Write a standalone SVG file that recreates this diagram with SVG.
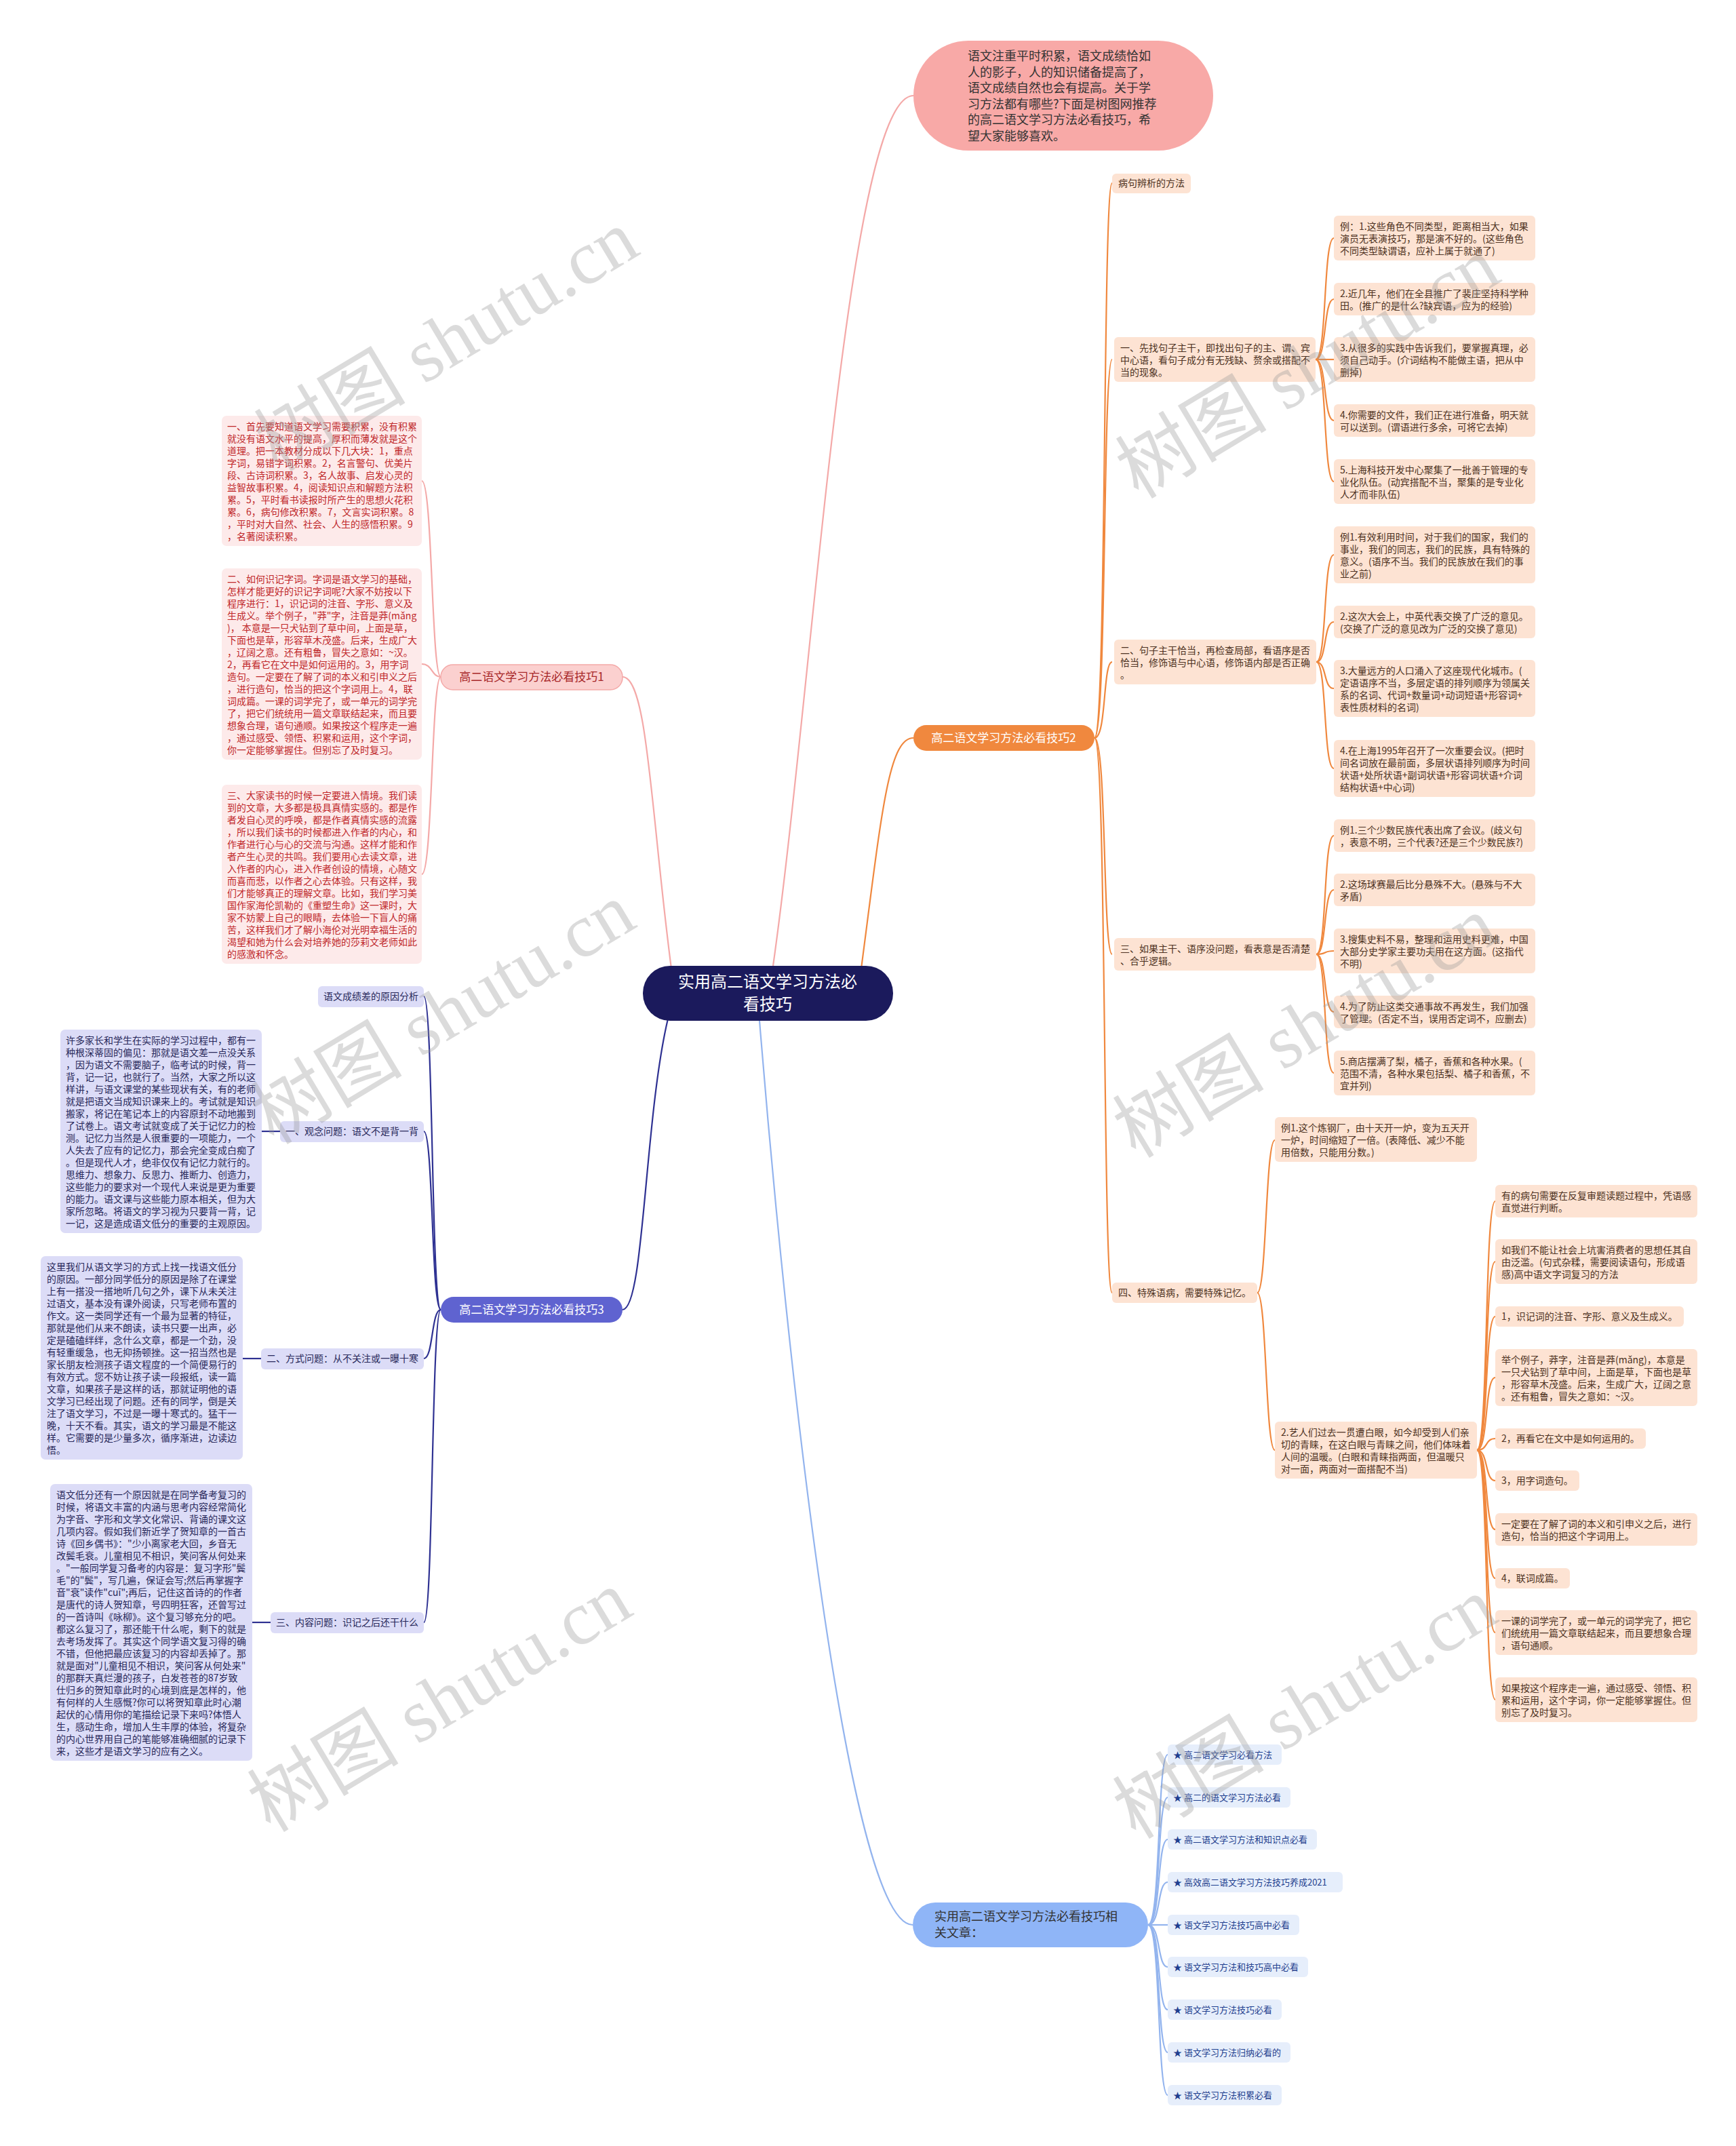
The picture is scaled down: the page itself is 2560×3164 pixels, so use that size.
<svg xmlns="http://www.w3.org/2000/svg" width="2560" height="3164" viewBox="0 0 2560 3164">
<style>
text{font-family:"Noto Sans CJK SC","Liberation Sans",sans-serif;}
.t14{font-size:14px;}
.pinkbox{fill:#fdeaea;}
.pinkt{fill:#c0282a;}
.orbox{fill:#fde3d3;}
.ort{fill:#4d3222;}
.navbox{fill:#dcdcf7;}
.navt{fill:#28285a;}
.bluebox{fill:#e6eefb;}
.bluet{fill:#1f3f8f;font-size:13px;}
.lp{fill:none;stroke:#f4a9a8;stroke-width:2.2;}
.lo{fill:none;stroke:#f0883e;stroke-width:2.2;}
.ln{fill:none;stroke:#2e3192;stroke-width:2.2;}
.lb{fill:none;stroke:#93b4ee;stroke-width:2.2;}
.wm{font-family:"Liberation Serif","Noto Sans CJK SC",serif;font-size:112px;fill:#9a9a9a;opacity:0.35;}
</style>
<rect width="2560" height="3164" fill="#ffffff"/>

<g id="connectors">
  <!-- center to main branches -->
  <path class="lp" d="M1140,1424 C1200,1000 1250,141 1347,141"/>
  <path class="lp" d="M990,1428 C960,1200 955,998 918,998"/>
  <path class="lo" d="M1270,1428 C1300,1200 1310,1088 1347,1088"/>
  <path class="ln" d="M985,1502 C950,1650 950,1931 918,1931"/>
  <path class="lb" d="M1120,1505 C1160,2000 1250,2838 1346,2838"/>
  <!-- branch 1 -->
  <path class="lp" d="M650,998 C636,998 638,709 622,709"/>
  <path class="lp" d="M650,998 C636,998 638,979 622,979"/>
  <path class="lp" d="M650,998 C636,998 638,1289 622,1289"/>
  <!-- branch 2 -->
  <path class="lo" d="M1614,1088 C1632,1088 1626,270 1640,270"/>
  <path class="lo" d="M1614,1088 C1632,1088 1626,530 1640,530"/>
  <path class="lo" d="M1614,1088 C1632,1088 1626,976 1640,976"/>
  <path class="lo" d="M1614,1088 C1632,1088 1626,1407 1640,1407"/>
  <path class="lo" d="M1614,1088 C1632,1088 1626,1906 1640,1906"/>
  <path class="lo" d="M1940,530 C1957,530 1951,351 1967,351"/>
  <path class="lo" d="M1940,530 C1957,530 1951,441 1967,441"/>
  <path class="lo" d="M1940,530 L1967,530"/>
  <path class="lo" d="M1940,530 C1957,530 1951,620 1967,620"/>
  <path class="lo" d="M1940,530 C1957,530 1951,710 1967,710"/>
  <path class="lo" d="M1941,976 C1957,976 1951,818 1967,818"/>
  <path class="lo" d="M1941,976 C1957,976 1951,917 1967,917"/>
  <path class="lo" d="M1941,976 C1957,976 1951,1015 1967,1015"/>
  <path class="lo" d="M1941,976 C1957,976 1951,1133 1967,1133"/>
  <path class="lo" d="M1941,1407 C1957,1407 1951,1232 1967,1232"/>
  <path class="lo" d="M1941,1407 C1957,1407 1951,1312 1967,1312"/>
  <path class="lo" d="M1941,1407 C1957,1407 1951,1402 1967,1402"/>
  <path class="lo" d="M1941,1407 C1957,1407 1951,1492 1967,1492"/>
  <path class="lo" d="M1941,1407 C1957,1407 1951,1582 1967,1582"/>
  <path class="lo" d="M1854,1906 C1868,1906 1866,1681 1880,1681"/>
  <path class="lo" d="M1854,1906 C1868,1906 1866,2138 1880,2138"/>
  <path class="lo" d="M2178,2138 C2195,2138 2189,1771 2205,1771"/>
  <path class="lo" d="M2178,2138 C2195,2138 2189,1860 2205,1860"/>
  <path class="lo" d="M2178,2138 C2195,2138 2189,1941 2205,1941"/>
  <path class="lo" d="M2178,2138 C2195,2138 2189,2031 2205,2031"/>
  <path class="lo" d="M2178,2138 C2195,2138 2189,2121 2205,2121"/>
  <path class="lo" d="M2178,2138 C2195,2138 2189,2183 2205,2183"/>
  <path class="lo" d="M2178,2138 C2195,2138 2189,2255 2205,2255"/>
  <path class="lo" d="M2178,2138 C2195,2138 2189,2327 2205,2327"/>
  <path class="lo" d="M2178,2138 C2195,2138 2189,2407 2205,2407"/>
  <path class="lo" d="M2178,2138 C2195,2138 2189,2506 2205,2506"/>
  <!-- branch 3 -->
  <path class="ln" d="M650,1931 C636,1931 639,1469 625,1469"/>
  <path class="ln" d="M650,1931 C636,1931 639,1668 625,1668"/>
  <path class="ln" d="M650,1931 C636,1931 639,2003 625,2003"/>
  <path class="ln" d="M650,1931 C636,1931 639,2392 625,2392"/>
  <path class="ln" d="M413,1668 L386,1668"/>
  <path class="ln" d="M385,2003 L358,2003"/>
  <path class="ln" d="M399,2392 L372,2392"/>
  <!-- related -->
  <path class="lb" d="M1693,2838 C1712,2838 1706,2587 1722,2587"/>
  <path class="lb" d="M1693,2838 C1712,2838 1706,2650 1722,2650"/>
  <path class="lb" d="M1693,2838 C1712,2838 1706,2712 1722,2712"/>
  <path class="lb" d="M1693,2838 C1712,2838 1706,2775 1722,2775"/>
  <path class="lb" d="M1693,2838 L1722,2838"/>
  <path class="lb" d="M1693,2838 C1712,2838 1706,2900 1722,2900"/>
  <path class="lb" d="M1693,2838 C1712,2838 1706,2963 1722,2963"/>
  <path class="lb" d="M1693,2838 C1712,2838 1706,3026 1722,3026"/>
  <path class="lb" d="M1693,2838 C1712,2838 1706,3089 1722,3089"/>
</g>

<g id="center">
  <rect x="948" y="1424" width="369" height="81" rx="40" fill="#1b1a5c"/>
  <text x="1132" y="1456" font-size="24" fill="#ffffff" text-anchor="middle"><tspan x="1132">实用高二语文学习方法必</tspan><tspan x="1132" dy="33">看技巧</tspan></text>
</g>

<g id="intro">
  <rect x="1347" y="60" width="442" height="162" rx="81" fill="#f8a9a7"/>
  <text x="1427" y="89" font-size="18" fill="#333333"><tspan x="1427">语文注重平时积累，语文成绩恰如</tspan><tspan x="1427" dy="23.5">人的影子，人的知识储备提高了，</tspan><tspan x="1427" dy="23.5">语文成绩自然也会有提高。关于学</tspan><tspan x="1427" dy="23.5">习方法都有哪些?下面是树图网推荐</tspan><tspan x="1427" dy="23.5">的高二语文学习方法必看技巧，希</tspan><tspan x="1427" dy="23.5">望大家能够喜欢。</tspan></text>
</g>

<g id="branch1">
  <rect x="650" y="980" width="268" height="37" rx="18" fill="#fbd0cf" stroke="#f4a9a8" stroke-width="1.5"/>
  <text x="784" y="1004" font-size="17" fill="#a8282a" text-anchor="middle">高二语文学习方法必看技巧1</text>
</g>
<g id="b1-n1">
  <rect class="pinkbox" x="327" y="613" width="295" height="192" rx="7"/>
  <text class="t14 pinkt" x="335" y="634"><tspan x="335">一、首先要知道语文学习需要积累，没有积累</tspan><tspan x="335" dy="18">就没有语文水平的提高，厚积而薄发就是这个</tspan><tspan x="335" dy="18">道理。把一本教材分成以下几大块：1，重点</tspan><tspan x="335" dy="18">字词，易错字词积累。2，名言警句、优美片</tspan><tspan x="335" dy="18">段、古诗词积累。3，名人故事、启发心灵的</tspan><tspan x="335" dy="18">益智故事积累。4，阅读知识点和解题方法积</tspan><tspan x="335" dy="18">累。5，平时看书读报时所产生的思想火花积</tspan><tspan x="335" dy="18">累。6，病句修改积累。7，文言实词积累。8</tspan><tspan x="335" dy="18">，平时对大自然、社会、人生的感悟积累。9</tspan><tspan x="335" dy="18">，名著阅读积累。</tspan></text>
</g>
<g id="b1-n2">
  <rect class="pinkbox" x="327" y="838" width="295" height="282" rx="7"/>
  <text class="t14 pinkt" x="335" y="859"><tspan x="335">二、如何识记字词。字词是语文学习的基础，</tspan><tspan x="335" dy="18">怎样才能更好的识记字词呢?大家不妨按以下</tspan><tspan x="335" dy="18">程序进行：1，识记词的注音、字形、意义及</tspan><tspan x="335" dy="18">生成义。举个例子，"莽"字，注音是莽(mǎng</tspan><tspan x="335" dy="18">)， 本意是一只犬钻到了草中间，上面是草，</tspan><tspan x="335" dy="18">下面也是草，形容草木茂盛。后来，生成广大</tspan><tspan x="335" dy="18">，辽阔之意。还有粗鲁，冒失之意如：~汉。</tspan><tspan x="335" dy="18">2，再看它在文中是如何运用的。3，用字词</tspan><tspan x="335" dy="18">造句。一定要在了解了词的本义和引申义之后</tspan><tspan x="335" dy="18">，进行造句，恰当的把这个字词用上。4，联</tspan><tspan x="335" dy="18">词成篇。一课的词学完了，或一单元的词学完</tspan><tspan x="335" dy="18">了，把它们统统用一篇文章联结起来，而且要</tspan><tspan x="335" dy="18">想象合理，语句通顺。如果按这个程序走一遍</tspan><tspan x="335" dy="18">，通过感受、领悟、积累和运用，这个字词，</tspan><tspan x="335" dy="18">你一定能够掌握住。但别忘了及时复习。</tspan></text>
</g>
<g id="b1-n3">
  <rect class="pinkbox" x="327" y="1157" width="295" height="264" rx="7"/>
  <text class="t14 pinkt" x="335" y="1178"><tspan x="335">三、大家读书的时候一定要进入情境。我们读</tspan><tspan x="335" dy="18">到的文章，大多都是极具真情实感的。都是作</tspan><tspan x="335" dy="18">者发自心灵的呼唤，都是作者真情实感的流露</tspan><tspan x="335" dy="18">，所以我们读书的时候都进入作者的内心，和</tspan><tspan x="335" dy="18">作者进行心与心的交流与沟通。这样才能和作</tspan><tspan x="335" dy="18">者产生心灵的共鸣。我们要用心去读文章，进</tspan><tspan x="335" dy="18">入作者的内心，进入作者创设的情境，心随文</tspan><tspan x="335" dy="18">而喜而悲，以作者之心去体验。只有这样，我</tspan><tspan x="335" dy="18">们才能够真正的理解文章。比如，我们学习美</tspan><tspan x="335" dy="18">国作家海伦凯勒的《重塑生命》这一课时，大</tspan><tspan x="335" dy="18">家不妨蒙上自己的眼睛，去体验一下盲人的痛</tspan><tspan x="335" dy="18">苦，这样我们才了解小海伦对光明幸福生活的</tspan><tspan x="335" dy="18">渴望和她为什么会对培养她的莎莉文老师如此</tspan><tspan x="335" dy="18">的感激和怀念。</tspan></text>
</g>

<g id="branch2">
  <rect x="1347" y="1069" width="267" height="38" rx="19" fill="#f0883e"/>
  <text x="1480" y="1094" font-size="17" fill="#ffffff" text-anchor="middle">高二语文学习方法必看技巧2</text>
</g>
<g id="b2-a">
  <rect class="orbox" x="1640" y="256" width="116" height="29" rx="6"/>
  <text class="t14 ort" x="1649" y="275">病句辨析的方法</text>
</g>
<g id="b2-b">
  <rect class="orbox" x="1643" y="497" width="297" height="66" rx="6"/>
  <text class="t14 ort" x="1652" y="518"><tspan x="1652">一、先找句子主干，即找出句子的主、谓、宾</tspan><tspan x="1652" dy="18">中心语，看句子成分有无残缺、赘余或搭配不</tspan><tspan x="1652" dy="18">当的现象。</tspan></text>
</g>
<g id="b2-b1">
  <rect class="orbox" x="1967" y="318" width="297" height="66" rx="6"/>
  <text class="t14 ort" x="1976" y="339"><tspan x="1976">例：1.这些角色不同类型，距离相当大，如果</tspan><tspan x="1976" dy="18">演员无表演技巧，那是演不好的。(这些角色</tspan><tspan x="1976" dy="18">不同类型缺谓语，应补上属于就通了)</tspan></text>
</g>
<g id="b2-b2">
  <rect class="orbox" x="1967" y="417" width="297" height="48" rx="6"/>
  <text class="t14 ort" x="1976" y="438"><tspan x="1976">2.近几年，他们在全县推广了裴庄坚持科学种</tspan><tspan x="1976" dy="18">田。(推广的是什么?缺宾语，应为的经验)</tspan></text>
</g>
<g id="b2-b3">
  <rect class="orbox" x="1967" y="497" width="297" height="66" rx="6"/>
  <text class="t14 ort" x="1976" y="518"><tspan x="1976">3.从很多的实践中告诉我们，要掌握真理，必</tspan><tspan x="1976" dy="18">须自己动手。(介词结构不能做主语，把从中</tspan><tspan x="1976" dy="18">删掉)</tspan></text>
</g>
<g id="b2-b4">
  <rect class="orbox" x="1967" y="596" width="297" height="48" rx="6"/>
  <text class="t14 ort" x="1976" y="617"><tspan x="1976">4.你需要的文件，我们正在进行准备，明天就</tspan><tspan x="1976" dy="18">可以送到。(谓语进行多余，可将它去掉)</tspan></text>
</g>
<g id="b2-b5">
  <rect class="orbox" x="1967" y="677" width="297" height="66" rx="6"/>
  <text class="t14 ort" x="1976" y="698"><tspan x="1976">5.上海科技开发中心聚集了一批善于管理的专</tspan><tspan x="1976" dy="18">业化队伍。(动宾搭配不当，聚集的是专业化</tspan><tspan x="1976" dy="18">人才而非队伍)</tspan></text>
</g>
<g id="b2-c">
  <rect class="orbox" x="1643" y="943" width="298" height="66" rx="6"/>
  <text class="t14 ort" x="1652" y="964"><tspan x="1652">二、句子主干恰当，再检查局部，看语序是否</tspan><tspan x="1652" dy="18">恰当，修饰语与中心语，修饰语内部是否正确</tspan><tspan x="1652" dy="18">。</tspan></text>
</g>
<g id="b2-c1">
  <rect class="orbox" x="1967" y="776" width="297" height="84" rx="6"/>
  <text class="t14 ort" x="1976" y="797"><tspan x="1976">例1.有效利用时间，对于我们的国家，我们的</tspan><tspan x="1976" dy="18">事业，我们的同志，我们的民族，具有特殊的</tspan><tspan x="1976" dy="18">意义。(语序不当。我们的民族放在我们的事</tspan><tspan x="1976" dy="18">业之前)</tspan></text>
</g>
<g id="b2-c2">
  <rect class="orbox" x="1967" y="893" width="297" height="48" rx="6"/>
  <text class="t14 ort" x="1976" y="914"><tspan x="1976">2.这次大会上，中英代表交换了广泛的意见。</tspan><tspan x="1976" dy="18">(交换了广泛的意见改为广泛的交换了意见)</tspan></text>
</g>
<g id="b2-c3">
  <rect class="orbox" x="1967" y="973" width="297" height="84" rx="6"/>
  <text class="t14 ort" x="1976" y="994"><tspan x="1976">3.大量远方的人口涌入了这座现代化城市。(</tspan><tspan x="1976" dy="18">定语语序不当，多层定语的排列顺序为领属关</tspan><tspan x="1976" dy="18">系的名词、代词+数量词+动词短语+形容词+</tspan><tspan x="1976" dy="18">表性质材料的名词)</tspan></text>
</g>
<g id="b2-c4">
  <rect class="orbox" x="1967" y="1091" width="297" height="84" rx="6"/>
  <text class="t14 ort" x="1976" y="1112"><tspan x="1976">4.在上海1995年召开了一次重要会议。(把时</tspan><tspan x="1976" dy="18">间名词放在最前面，多层状语排列顺序为时间</tspan><tspan x="1976" dy="18">状语+处所状语+副词状语+形容词状语+介词</tspan><tspan x="1976" dy="18">结构状语+中心词)</tspan></text>
</g>
<g id="b2-d">
  <rect class="orbox" x="1643" y="1383" width="298" height="48" rx="6"/>
  <text class="t14 ort" x="1652" y="1404"><tspan x="1652">三、如果主干、语序没问题，看表意是否清楚</tspan><tspan x="1652" dy="18">、合乎逻辑。</tspan></text>
</g>
<g id="b2-d1">
  <rect class="orbox" x="1967" y="1208" width="297" height="48" rx="6"/>
  <text class="t14 ort" x="1976" y="1229"><tspan x="1976">例1.三个少数民族代表出席了会议。(歧义句</tspan><tspan x="1976" dy="18">，表意不明，三个代表?还是三个少数民族?)</tspan></text>
</g>
<g id="b2-d2">
  <rect class="orbox" x="1967" y="1288" width="297" height="48" rx="6"/>
  <text class="t14 ort" x="1976" y="1309"><tspan x="1976">2.这场球赛最后比分悬殊不大。(悬殊与不大</tspan><tspan x="1976" dy="18">矛盾)</tspan></text>
</g>
<g id="b2-d3">
  <rect class="orbox" x="1967" y="1369" width="297" height="66" rx="6"/>
  <text class="t14 ort" x="1976" y="1390"><tspan x="1976">3.搜集史料不易，整理和运用史料更难，中国</tspan><tspan x="1976" dy="18">大部分史学家主要功夫用在这方面。(这指代</tspan><tspan x="1976" dy="18">不明)</tspan></text>
</g>
<g id="b2-d4">
  <rect class="orbox" x="1967" y="1468" width="297" height="48" rx="6"/>
  <text class="t14 ort" x="1976" y="1489"><tspan x="1976">4.为了防止这类交通事故不再发生，我们加强</tspan><tspan x="1976" dy="18">了管理。(否定不当，误用否定词不，应删去)</tspan></text>
</g>
<g id="b2-d5">
  <rect class="orbox" x="1967" y="1549" width="297" height="66" rx="6"/>
  <text class="t14 ort" x="1976" y="1570"><tspan x="1976">5.商店摆满了梨，橘子，香蕉和各种水果。(</tspan><tspan x="1976" dy="18">范围不清，各种水果包括梨、橘子和香蕉，不</tspan><tspan x="1976" dy="18">宜并列)</tspan></text>
</g>
<g id="b2-e">
  <rect class="orbox" x="1640" y="1891" width="214" height="30" rx="6"/>
  <text class="t14 ort" x="1649" y="1911">四、特殊语病，需要特殊记忆。</text>
</g>
<g id="b2-e1">
  <rect class="orbox" x="1880" y="1647" width="298" height="66" rx="6"/>
  <text class="t14 ort" x="1889" y="1668"><tspan x="1889">例1.这个炼钢厂，由十天开一炉，变为五天开</tspan><tspan x="1889" dy="18">一炉，时间缩短了一倍。(表降低、减少不能</tspan><tspan x="1889" dy="18">用倍数，只能用分数。)</tspan></text>
</g>
<g id="b2-e2">
  <rect class="orbox" x="1880" y="2096" width="298" height="84" rx="6"/>
  <text class="t14 ort" x="1889" y="2117"><tspan x="1889">2.艺人们过去一贯遭白眼，如今却受到人们亲</tspan><tspan x="1889" dy="18">切的青睐，在这白眼与青睐之间，他们体味着</tspan><tspan x="1889" dy="18">人间的温暖。(白眼和青睐指两面，但温暖只</tspan><tspan x="1889" dy="18">对一面，两面对一面搭配不当)</tspan></text>
</g>
<g id="b2-e2-1">
  <rect class="orbox" x="2205" y="1747" width="298" height="48" rx="6"/>
  <text class="t14 ort" x="2214" y="1768"><tspan x="2214">有的病句需要在反复审题读题过程中，凭语感</tspan><tspan x="2214" dy="18">直觉进行判断。</tspan></text>
</g>
<g id="b2-e2-2">
  <rect class="orbox" x="2205" y="1827" width="298" height="66" rx="6"/>
  <text class="t14 ort" x="2214" y="1848"><tspan x="2214">如我们不能让社会上坑害消费者的思想任其自</tspan><tspan x="2214" dy="18">由泛滥。(句式杂糅，需要阅读语句，形成语</tspan><tspan x="2214" dy="18">感)高中语文字词复习的方法</tspan></text>
</g>
<g id="b2-e2-3">
  <rect class="orbox" x="2205" y="1926" width="278" height="30" rx="6"/>
  <text class="t14 ort" x="2214" y="1946">1，识记词的注音、字形、意义及生成义。</text>
</g>
<g id="b2-e2-4">
  <rect class="orbox" x="2205" y="1989" width="298" height="84" rx="6"/>
  <text class="t14 ort" x="2214" y="2010"><tspan x="2214">举个例子，莽字，注音是莽(mǎng)，本意是</tspan><tspan x="2214" dy="18">一只犬钻到了草中间，上面是草，下面也是草</tspan><tspan x="2214" dy="18">，形容草木茂盛。后来，生成广大，辽阔之意</tspan><tspan x="2214" dy="18">。还有粗鲁，冒失之意如：~汉。</tspan></text>
</g>
<g id="b2-e2-5">
  <rect class="orbox" x="2205" y="2106" width="222" height="30" rx="6"/>
  <text class="t14 ort" x="2214" y="2126">2，再看它在文中是如何运用的。</text>
</g>
<g id="b2-e2-6">
  <rect class="orbox" x="2205" y="2168" width="124" height="30" rx="6"/>
  <text class="t14 ort" x="2214" y="2188">3，用字词造句。</text>
</g>
<g id="b2-e2-7">
  <rect class="orbox" x="2205" y="2231" width="298" height="48" rx="6"/>
  <text class="t14 ort" x="2214" y="2252"><tspan x="2214">一定要在了解了词的本义和引申义之后，进行</tspan><tspan x="2214" dy="18">造句，恰当的把这个字词用上。</tspan></text>
</g>
<g id="b2-e2-8">
  <rect class="orbox" x="2205" y="2312" width="110" height="30" rx="6"/>
  <text class="t14 ort" x="2214" y="2332">4，联词成篇。</text>
</g>
<g id="b2-e2-9">
  <rect class="orbox" x="2205" y="2374" width="298" height="66" rx="6"/>
  <text class="t14 ort" x="2214" y="2395"><tspan x="2214">一课的词学完了，或一单元的词学完了，把它</tspan><tspan x="2214" dy="18">们统统用一篇文章联结起来，而且要想象合理</tspan><tspan x="2214" dy="18">，语句通顺。</tspan></text>
</g>
<g id="b2-e2-10">
  <rect class="orbox" x="2205" y="2473" width="298" height="66" rx="6"/>
  <text class="t14 ort" x="2214" y="2494"><tspan x="2214">如果按这个程序走一遍，通过感受、领悟、积</tspan><tspan x="2214" dy="18">累和运用，这个字词，你一定能够掌握住。但</tspan><tspan x="2214" dy="18">别忘了及时复习。</tspan></text>
</g>

<g id="branch3">
  <rect x="650" y="1912" width="268" height="38" rx="19" fill="#5f63d0"/>
  <text x="784" y="1937" font-size="17" fill="#ffffff" text-anchor="middle">高二语文学习方法必看技巧3</text>
</g>
<g id="b3-a">
  <rect class="navbox" x="469" y="1454" width="156" height="31" rx="6"/>
  <text class="t14 navt" x="477" y="1474">语文成绩差的原因分析</text>
</g>
<g id="b3-b">
  <rect class="navbox" x="413" y="1653" width="212" height="31" rx="6"/>
  <text class="t14 navt" x="421" y="1673">一、观念问题：语文不是背一背</text>
</g>
<g id="b3-b1">
  <rect class="navbox" x="89" y="1518" width="297" height="300" rx="7"/>
  <text class="t14 navt" x="97" y="1539"><tspan x="97">许多家长和学生在实际的学习过程中，都有一</tspan><tspan x="97" dy="18">种根深蒂固的偏见：那就是语文差一点没关系</tspan><tspan x="97" dy="18">，因为语文不需要脑子，临考试的时候，背一</tspan><tspan x="97" dy="18">背，记一记，也就行了。当然，大家之所以这</tspan><tspan x="97" dy="18">样讲，与语文课堂的某些现状有关，有的老师</tspan><tspan x="97" dy="18">就是把语文当成知识课来上的。考试就是知识</tspan><tspan x="97" dy="18">搬家，将记在笔记本上的内容原封不动地搬到</tspan><tspan x="97" dy="18">了试卷上。语文考试就变成了关于记忆力的检</tspan><tspan x="97" dy="18">测。记忆力当然是人很重要的一项能力，一个</tspan><tspan x="97" dy="18">人失去了应有的记忆力，那会完全变成白痴了</tspan><tspan x="97" dy="18">。但是现代人才，绝非仅仅有记忆力就行的。</tspan><tspan x="97" dy="18">思维力、想象力、反思力、推断力、创造力，</tspan><tspan x="97" dy="18">这些能力的要求对一个现代人来说是更为重要</tspan><tspan x="97" dy="18">的能力。语文课与这些能力原本相关，但为大</tspan><tspan x="97" dy="18">家所忽略。将语文的学习视为只要背一背，记</tspan><tspan x="97" dy="18">一记，这是造成语文低分的重要的主观原因。</tspan></text>
</g>
<g id="b3-c">
  <rect class="navbox" x="385" y="1988" width="240" height="31" rx="6"/>
  <text class="t14 navt" x="393" y="2008">二、方式问题：从不关注或一曝十寒</text>
</g>
<g id="b3-c1">
  <rect class="navbox" x="60" y="1852" width="298" height="300" rx="7"/>
  <text class="t14 navt" x="69" y="1873"><tspan x="69">这里我们从语文学习的方式上找一找语文低分</tspan><tspan x="69" dy="18">的原因。一部分同学低分的原因是除了在课堂</tspan><tspan x="69" dy="18">上有一搭没一搭地听几句之外，课下从未关注</tspan><tspan x="69" dy="18">过语文，基本没有课外阅读，只写老师布置的</tspan><tspan x="69" dy="18">作文。这一类同学还有一个最为显著的特征，</tspan><tspan x="69" dy="18">那就是他们从来不朗读，读书只要一出声，必</tspan><tspan x="69" dy="18">定是磕磕绊绊，念什么文章，都是一个劲，没</tspan><tspan x="69" dy="18">有轻重缓急，也无抑扬顿挫。这一招当然也是</tspan><tspan x="69" dy="18">家长朋友检测孩子语文程度的一个简便易行的</tspan><tspan x="69" dy="18">有效方式。您不妨让孩子读一段报纸，读一篇</tspan><tspan x="69" dy="18">文章，如果孩子是这样的话，那就证明他的语</tspan><tspan x="69" dy="18">文学习已经出现了问题。还有的同学，倒是关</tspan><tspan x="69" dy="18">注了语文学习，不过是一曝十寒式的。猛干一</tspan><tspan x="69" dy="18">晚，十天不看。其实，语文的学习最是不能这</tspan><tspan x="69" dy="18">样。它需要的是少量多次，循序渐进，边读边</tspan><tspan x="69" dy="18">悟。</tspan></text>
</g>
<g id="b3-d">
  <rect class="navbox" x="399" y="2377" width="226" height="31" rx="6"/>
  <text class="t14 navt" x="407" y="2397">三、内容问题：识记之后还干什么</text>
</g>
<g id="b3-d1">
  <rect class="navbox" x="74" y="2188" width="298" height="408" rx="7"/>
  <text class="t14 navt" x="83" y="2209"><tspan x="83">语文低分还有一个原因就是在同学备考复习的</tspan><tspan x="83" dy="18">时候，将语文丰富的内涵与思考内容经常简化</tspan><tspan x="83" dy="18">为字音、字形和文学文化常识、背诵的课文这</tspan><tspan x="83" dy="18">几项内容。假如我们新近学了贺知章的一首古</tspan><tspan x="83" dy="18">诗《回乡偶书》："少小离家老大回，乡音无</tspan><tspan x="83" dy="18">改鬓毛衰。儿童相见不相识，笑问客从何处来</tspan><tspan x="83" dy="18">。"一般同学复习备考的内容是：复习字形"鬓</tspan><tspan x="83" dy="18">毛"的"鬓"，写几遍，保证会写;然后再掌握字</tspan><tspan x="83" dy="18">音"衰"读作"cuī";再后，记住这首诗的的作者</tspan><tspan x="83" dy="18">是唐代的诗人贺知章，号四明狂客，还曾写过</tspan><tspan x="83" dy="18">的一首诗叫《咏柳》。这个复习够充分的吧。</tspan><tspan x="83" dy="18">都这么复习了，那还能干什么呢，剩下的就是</tspan><tspan x="83" dy="18">去考场发挥了。其实这个同学语文复习得的确</tspan><tspan x="83" dy="18">不错，但他把最应该复习的内容却丢掉了。那</tspan><tspan x="83" dy="18">就是面对"儿童相见不相识，笑问客从何处来"</tspan><tspan x="83" dy="18">的那群天真烂漫的孩子，白发苍苍的87岁致</tspan><tspan x="83" dy="18">仕归乡的贺知章此时的心境到底是怎样的，他</tspan><tspan x="83" dy="18">有何样的人生感慨?你可以将贺知章此时心潮</tspan><tspan x="83" dy="18">起伏的心情用你的笔描绘记录下来吗?体悟人</tspan><tspan x="83" dy="18">生，感动生命，增加人生丰厚的体验，将复杂</tspan><tspan x="83" dy="18">的内心世界用自己的笔能够准确细腻的记录下</tspan><tspan x="83" dy="18">来，这些才是语文学习的应有之义。</tspan></text>
</g>

<g id="related">
  <rect x="1346" y="2805" width="347" height="66" rx="33" fill="#8fb5f7"/>
  <text x="1378" y="2832" font-size="18" fill="#333333"><tspan x="1378">实用高二语文学习方法必看技巧相</tspan><tspan x="1378" dy="24">关文章：</tspan></text>
</g>
<g id="rel-1"><rect class="bluebox" x="1722" y="2572" width="168" height="30" rx="6"/><text class="bluet" x="1730" y="2592">★ 高二语文学习必看方法</text></g>
<g id="rel-2"><rect class="bluebox" x="1722" y="2635" width="181" height="30" rx="6"/><text class="bluet" x="1730" y="2655">★ 高二的语文学习方法必看</text></g>
<g id="rel-3"><rect class="bluebox" x="1722" y="2697" width="220" height="30" rx="6"/><text class="bluet" x="1730" y="2717">★ 高二语文学习方法和知识点必看</text></g>
<g id="rel-4"><rect class="bluebox" x="1722" y="2760" width="258" height="30" rx="6"/><text class="bluet" x="1730" y="2780">★ 高效高二语文学习方法技巧养成2021</text></g>
<g id="rel-5"><rect class="bluebox" x="1722" y="2823" width="194" height="30" rx="6"/><text class="bluet" x="1730" y="2843">★ 语文学习方法技巧高中必看</text></g>
<g id="rel-6"><rect class="bluebox" x="1722" y="2885" width="207" height="30" rx="6"/><text class="bluet" x="1730" y="2905">★ 语文学习方法和技巧高中必看</text></g>
<g id="rel-7"><rect class="bluebox" x="1722" y="2948" width="168" height="30" rx="6"/><text class="bluet" x="1730" y="2968">★ 语文学习方法技巧必看</text></g>
<g id="rel-8"><rect class="bluebox" x="1722" y="3011" width="181" height="30" rx="6"/><text class="bluet" x="1730" y="3031">★ 语文学习方法归纳必看的</text></g>
<g id="rel-9"><rect class="bluebox" x="1722" y="3074" width="168" height="30" rx="6"/><text class="bluet" x="1730" y="3094">★ 语文学习方法积累必看</text></g>

<g id="watermarks">
  <text class="wm" x="660" y="540" text-anchor="middle" transform="rotate(-31 660 505)">树图 shutu.cn</text>
  <text class="wm" x="1930" y="580" text-anchor="middle" transform="rotate(-31 1930 545)">树图 shutu.cn</text>
  <text class="wm" x="655" y="1532" text-anchor="middle" transform="rotate(-31 655 1497)">树图 shutu.cn</text>
  <text class="wm" x="1926" y="1552" text-anchor="middle" transform="rotate(-31 1926 1517)">树图 shutu.cn</text>
  <text class="wm" x="650" y="2546" text-anchor="middle" transform="rotate(-31 650 2511)">树图 shutu.cn</text>
  <text class="wm" x="1926" y="2556" text-anchor="middle" transform="rotate(-31 1926 2521)">树图 shutu.cn</text>
</g>
</svg>
